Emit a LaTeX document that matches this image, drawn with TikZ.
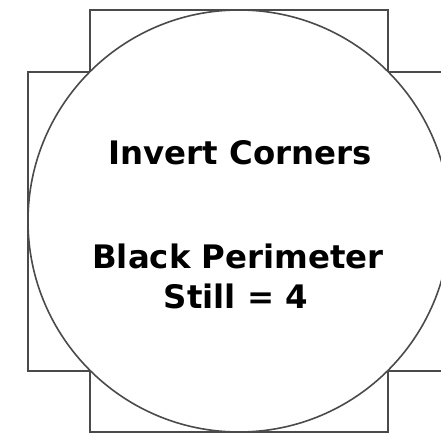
\documentclass[tikz,border=0pt]{standalone}
\usepackage{fontspec}
\setmainfont{DejaVu Sans}
\definecolor{edge}{HTML}{4A4A4A}
\tikzset{
  outline/.style={draw=edge, line width=1.6bp},
  label/.style={anchor=base, inner sep=0pt, font=\fontsize{32.5}{38}\selectfont\bfseries, text=black}
}
\begin{document}
\begin{tikzpicture}[x=1bp, y=-1bp]
\useasboundingbox (0,0) rectangle (441,435);
\clip (0,0) rectangle (441,435);
\fill[white] (0,0) rectangle (441,435);
\draw[outline] (90,10) -- (388,10) -- (388,72) -- (452,72) -- (452,371) -- (388,371) -- (388,432) -- (90,432) -- (90,371) -- (28,371) -- (28,72) -- (90,72) -- cycle;
\node[outline, fill=white, circle, minimum size=422bp, inner sep=0pt] (disc) at (239,221) {};
\node[label] (t1) at (240,165) {Invert Corners};
\node[label] (t2) at (238,268) {Black Perimeter};
\node[label] (t3) at (236,308) {Still = 4};
\end{tikzpicture}
\end{document}
